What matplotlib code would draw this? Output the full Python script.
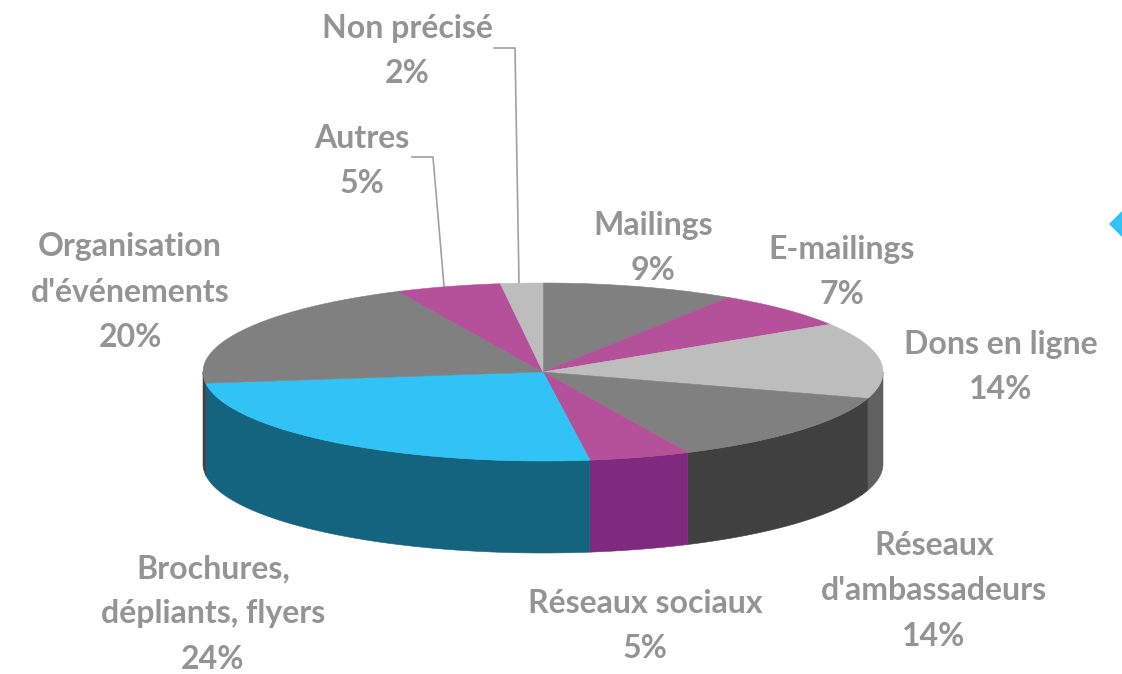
import numpy as np
import matplotlib
matplotlib.use('Agg')
import matplotlib.pyplot as plt

# slice sizes as measured on the picture, printed labels below are the rounded ones
shares = [9.2, 6.8, 13.8, 13.2, 4.8, 25.2, 20, 5, 2]
percent_labels = ['9%', '7%', '14%', '14%', '5%', '24%', '20%', '5%', '2%']
names = ['Mailings', 'E-mailings', 'Dons en ligne', "Réseaux\nd'ambassadeurs", 'Réseaux sociaux',
         'Brochures,\ndépliants, flyers', "Organisation\nd'événements", 'Autres', 'Non précisé']
top_colors = ['#808080', '#B5509A', '#BDBDBD', '#808080', '#B5509A', '#31C3F5', '#808080', '#B5509A', '#BDBDBD']
side_colors = ['#404040', '#7F2A7E', '#606060', '#404040', '#7F2A7E', '#14647F', '#404040', '#7F2A7E', '#606060']
label_pos = [(653, 248), (842, 272), (1001, 367), (934, 591), (645, 626),
             (213, 614), (130, 292), (362, 161), (407, 51)]

cx, cy, rx, ry, depth = 543, 372, 340, 89, 92
text_color = '#949494'
line_color = '#A0A0A0'

fig, ax = plt.subplots(figsize=(11.22, 6.74), dpi=100)
fig.subplots_adjust(left=0, right=1, bottom=0, top=1)
ax.set_xlim(0, 1122)
ax.set_ylim(674, 0)
ax.axis('off')


def rim(a, b):
    t = np.radians(np.linspace(a, b, 120))
    return cx + rx * np.sin(t), cy - ry * np.cos(t)


edges = np.concatenate([[0], np.cumsum(shares)]) / np.sum(shares) * 360

# side wall, only the front half of the disc shows
for i in range(len(shares)):
    a, b = max(edges[i], 90), min(edges[i + 1], 270)
    if a >= b:
        continue
    x, y = rim(a, b)
    ax.fill(np.r_[x, x[::-1]], np.r_[y, y[::-1] + depth], color=side_colors[i], lw=0.4, zorder=2)

# top face
for i in range(len(shares)):
    x, y = rim(edges[i], edges[i + 1])
    ax.fill(np.r_[cx, x], np.r_[cy, y], color=top_colors[i], lw=0.4, zorder=3)

# leader lines
ax.plot([494, 515, 519], [48, 48, 283], color=line_color, lw=1.2, zorder=1)
ax.plot([412, 433, 444], [157, 157, 286], color=line_color, lw=1.2, zorder=1)

for name, pct, (px, py) in zip(names, percent_labels, label_pos):
    ax.text(px, py, f'{name}\n{pct}', ha='center', va='center', ma='center', color=text_color,
            family='Lato', weight='bold', fontsize=23, linespacing=1.68)

# bit of the diamond cut off by the right edge
ax.fill([1109, 1123, 1137, 1123], [224, 210, 224, 238], color='#31C3F5', lw=0)

plt.savefig('out.png', dpi=100)
plt.close()
